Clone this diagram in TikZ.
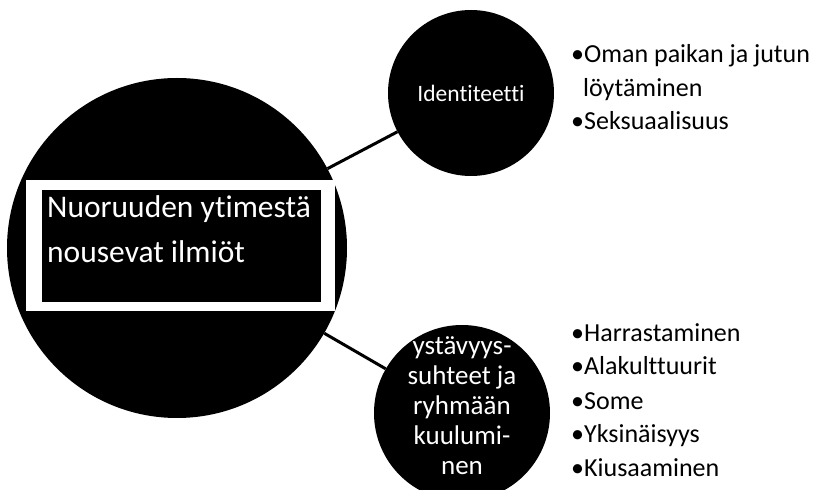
\documentclass[tikz,border=0pt]{standalone}
\usepackage{fontspec}
\setmainfont{Carlito}[Ligatures=NoCommon]
\usepackage{tikz}
\usepackage{tkz-euclide}

\tikzset{
  circulo/.style={circle, fill=black, draw=none, inner sep=0pt, text=white, align=center},
  ligacao/.style={line width=3pt},
  topico/.style={anchor=base west, inner sep=0pt, font=\fontsize{26}{33}\selectfont}
}

\begin{document}
\begin{tikzpicture}[x=1pt,y=1pt] %uma unidade = um ponto, como os pixels da figura

\useasboundingbox (0,0) rectangle (817,490);

%O comando \tkzDefPoints define os centros dos circulos, os cantos da moldura e o inicio de cada linha de texto (x/y/NomedoPonto)
\tkzDefPoints{
177/242/N,
471/397/I,
462/77/Y,
26/310/Ma,
335/179/Mb,
42/300/Mc,
321/188/Md,
47/272/Ta,
47/227/Tb,
462/84/Tc,
571/427/Ba,
583/393/Bb,
571/360/Bc,
571/148/La,
571/115/Lb,
571/80/Lc,
571/47/Ld,
571/13/Le}

%Circulo central e os dois circulos menores
%---------------------------------------------------
\node[circulo, minimum size=340pt] (nucleo) at (N) {};
\node[circulo, minimum size=166pt, font=\fontsize{23.5}{28}\selectfont] (ident) at (I) {Identiteetti};
\node[circulo, minimum size=176pt] (ystava) at (Y) {};
%---------------------------------------------------

%Ligacoes do circulo central aos circulos menores
%---------------------------------------------------
\draw[ligacao] (nucleo) -- (ident);
\draw[ligacao] (nucleo) -- (ystava);
%---------------------------------------------------

%Moldura branca com o titulo
%---------------------------------------------------
\fill[white] (Ma) rectangle (Mb);
\fill[black] (Mc) rectangle (Md);
\node[anchor=base west, inner sep=0pt, text=white, font=\fontsize{31.5}{38}\selectfont] (tit1) at (Ta) {Nuoruuden ytimestä};
\node[anchor=base west, inner sep=0pt, text=white, font=\fontsize{31.5}{38}\selectfont] (tit2) at (Tb) {nousevat ilmiöt};
%---------------------------------------------------

%Texto do circulo de baixo
%---------------------------------------------------
\node[inner sep=0pt, text=white, align=center, font=\fontsize{27}{30}\selectfont] (ystxt) at (Tc) {ystävyys-\\suhteet ja\\ryhmään\\kuulumi-\\nen};
%---------------------------------------------------

%Listas de topicos
%---------------------------------------------------
\node[topico] (b1) at (Ba) {•Oman paikan ja jutun};
\node[topico] (b2) at (Bb) {löytäminen};
\node[topico] (b3) at (Bc) {•Seksuaalisuus};
\node[topico] (l1) at (La) {•Harrastaminen};
\node[topico] (l2) at (Lb) {•Alakulttuurit};
\node[topico] (l3) at (Lc) {•Some};
\node[topico] (l4) at (Ld) {•Yksinäisyys};
\node[topico] (l5) at (Le) {•Kiusaaminen};
%---------------------------------------------------

\end{tikzpicture}
\end{document}
